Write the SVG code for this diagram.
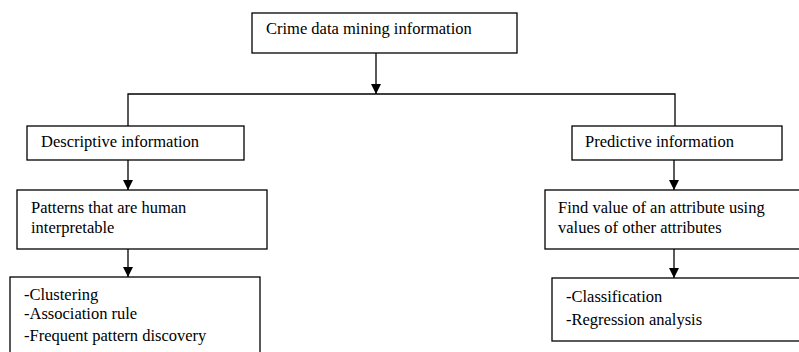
<svg xmlns="http://www.w3.org/2000/svg" width="799" height="352" viewBox="0 0 799 352">
<style>
.box{fill:#fff;stroke:#000;stroke-width:1.3}
.t{font-family:"Liberation Serif","Times New Roman",serif;font-size:16.5px;fill:#000}
.c{fill:none;stroke:#000;stroke-width:1.3}
</style>
<defs>
<marker id="ah" markerWidth="10" markerHeight="10" refX="10" refY="5" orient="auto" markerUnits="userSpaceOnUse">
<path d="M0,0 L10,5 L0,10 Z" fill="#000"/>
</marker>
</defs>
<rect width="799" height="352" fill="#fff"/>
<g id="connectors">
<line class="c" x1="376" y1="53" x2="376" y2="94" marker-end="url(#ah)"/>
<polyline class="c" points="128,126 128,94 675,94 675,126"/>
<line class="c" x1="128" y1="160" x2="128" y2="190" marker-end="url(#ah)"/>
<line class="c" x1="128" y1="249" x2="128" y2="277" marker-end="url(#ah)"/>
<line class="c" x1="674" y1="160" x2="674" y2="190" marker-end="url(#ah)"/>
<line class="c" x1="674" y1="249" x2="674" y2="278" marker-end="url(#ah)"/>
</g>
<g id="crime">
<rect class="box" x="252" y="13" width="265" height="40"/>
<text class="t" x="266" y="34">Crime data mining information</text>
</g>
<g id="descriptive">
<rect class="box" x="27" y="126" width="217" height="34"/>
<text class="t" x="41" y="147">Descriptive information</text>
</g>
<g id="predictive">
<rect class="box" x="572" y="126" width="210" height="34"/>
<text class="t" x="585" y="147">Predictive information</text>
</g>
<g id="patterns">
<rect class="box" x="17" y="190" width="250" height="59"/>
<text class="t" x="31" y="213">Patterns that are human</text>
<text class="t" x="31" y="233">interpretable</text>
</g>
<g id="findvalue">
<rect class="box" x="545" y="190" width="260" height="59"/>
<text class="t" x="558" y="213">Find value of an attribute using</text>
<text class="t" x="558" y="233">values of other attributes</text>
</g>
<g id="descriptive-methods">
<rect class="box" x="10" y="277" width="250" height="90"/>
<text class="t" x="24" y="300">-Clustering</text>
<text class="t" x="24" y="319">-Association rule</text>
<text class="t" x="24" y="341">-Frequent pattern discovery</text>
</g>
<g id="predictive-methods">
<rect class="box" x="552" y="278" width="260" height="63"/>
<text class="t" x="566" y="302">-Classification</text>
<text class="t" x="566" y="325">-Regression analysis</text>
</g>
</svg>
